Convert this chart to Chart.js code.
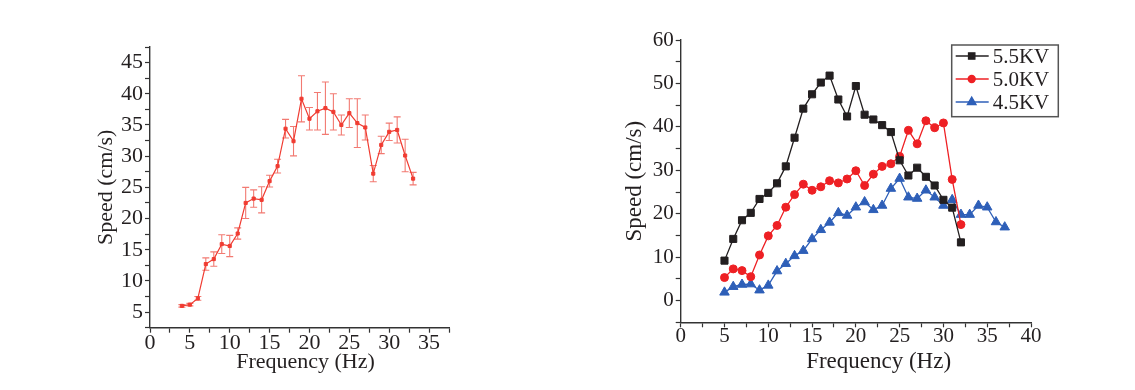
<!DOCTYPE html>
<html lang="en">
<head>
<meta charset="utf-8">
<title>Speed vs Frequency</title>
<script src="https://cdn.jsdelivr.net/npm/chart.js"></script>
<style>
    body { margin: 0; background: #fff; }
    .wrap { position: relative; width: 1135px; height: 390px; }
    #leftBox { position: absolute; left: 0; top: 0; width: 480px; height: 390px; }
    #rightBox { position: absolute; left: 567px; top: 0; width: 568px; height: 390px; }
</style>
</head>
<body>
<div class="wrap">
    <div id="leftBox"><canvas id="leftChart"></canvas></div>
    <div id="rightBox"><canvas id="rightChart"></canvas></div>
</div>
<script>
// ---- left plot (mean speed with error bars) ----
const leftFreq = [4, 5, 6, 7, 8, 9, 10, 11, 12, 13, 14, 15, 16, 17, 18, 19, 20, 21, 22, 23, 24, 25, 26, 27, 28, 29, 30, 31, 32, 33];
const leftSpeed = [6.0, 6.2, 7.2, 12.7, 13.5, 15.9, 15.6, 17.6, 22.5, 23.2, 23.0, 26.0, 28.4, 34.4, 32.4, 39.2, 36.0, 37.2, 37.7, 37.1, 35.0, 36.9, 35.3, 34.6, 27.2, 31.8, 33.9, 34.2, 30.1, 26.4];
const leftErr = [0.2, 0.2, 0.3, 1.0, 1.15, 1.5, 1.7, 0.9, 2.5, 1.4, 2.1, 0.95, 1.1, 1.5, 2.35, 3.7, 1.8, 3.0, 4.2, 2.9, 1.6, 2.3, 3.9, 2.0, 1.3, 1.4, 1.4, 2.1, 2.6, 1.0];
const leftXTicks = [0, 5, 10, 15, 20, 25, 30, 35];
const leftYTicks = [5, 10, 15, 20, 25, 30, 35, 40, 45];

// ---- right plot (three voltages) ----
const freq55 = [5, 6, 7, 8, 9, 10, 11, 12, 13, 14, 15, 16, 17, 18, 19, 20, 21, 22, 23, 24, 25, 26, 27, 28, 29, 30, 31, 32];
const speed55 = [9.2, 14.2, 18.5, 20.2, 23.4, 24.8, 27.0, 30.9, 37.5, 44.2, 47.5, 50.2, 51.8, 46.3, 42.4, 49.4, 42.8, 41.7, 40.4, 38.8, 32.3, 28.8, 30.6, 28.5, 26.5, 23.2, 21.4, 13.4];
const freq50 = [5, 6, 7, 8, 9, 10, 11, 12, 13, 14, 15, 16, 17, 18, 19, 20, 21, 22, 23, 24, 25, 26, 27, 28, 29, 30, 31, 32];
const speed50 = [5.3, 7.3, 6.9, 5.5, 10.5, 14.9, 17.3, 21.5, 24.4, 26.8, 25.4, 26.2, 27.6, 27.1, 28.0, 29.9, 26.5, 29.1, 30.9, 31.5, 33.2, 39.2, 36.1, 41.4, 39.8, 40.9, 27.9, 17.5];
const freq45 = [5, 6, 7, 8, 9, 10, 11, 12, 13, 14, 15, 16, 17, 18, 19, 20, 21, 22, 23, 24, 25, 26, 27, 28, 29, 30, 31, 32, 33, 34, 35, 36, 37];
const speed45 = [1.9, 3.2, 3.7, 3.8, 2.4, 3.5, 6.8, 8.5, 10.3, 11.5, 14.2, 16.3, 18.0, 20.2, 19.6, 21.5, 22.7, 20.9, 21.9, 25.8, 28.1, 23.8, 23.5, 25.4, 23.8, 21.9, 23.2, 19.8, 19.8, 21.9, 21.5, 18.1, 16.9];
const rightXTicks = [0, 5, 10, 15, 20, 25, 30, 35, 40];
const rightYTicks = [0, 10, 20, 30, 40, 50, 60];

const serif = "'Liberation Serif', 'Times New Roman', serif";
const ink = '#231f20';

const pairs = (xs, ys) => xs.map((x, i) => ({ x: x, y: ys[i] }));

// major ticks plus the unlabeled minor ones halfway between
function tickList(min, max, step) {
    const out = [];
    for (let v = min; v <= max + 1e-9; v += step) out.push({ value: Math.round(v * 100) / 100 });
    return out;
}

function axis(min, max, step, labels, size, pad, extra) {
    return Object.assign({
        type: 'linear',
        min: min,
        max: max,
        afterBuildTicks: s => { s.ticks = tickList(min, max, step); },
        ticks: {
            autoSkip: false,
            maxRotation: 0,
            padding: pad,
            color: ink,
            font: { family: serif, size: size },
            callback: v => labels.includes(v) ? String(v) : ''
        },
        grid: { drawOnChartArea: false, drawTicks: true, tickLength: 5, tickColor: '#333', tickWidth: 1.2 },
        border: { display: true, color: '#333', width: 1.4 }
    }, extra);
}

// error bars for the left plot, drawn under the line
const errorBars = {
    id: 'errorBars',
    beforeDatasetsDraw(chart, args, o) {
        const { ctx, scales: { x, y } } = chart;
        ctx.save();
        ctx.strokeStyle = o.color;
        ctx.lineWidth = 1.1;
        leftFreq.forEach((f, i) => {
            const px = x.getPixelForValue(f);
            const top = y.getPixelForValue(leftSpeed[i] + leftErr[i]);
            const bot = y.getPixelForValue(leftSpeed[i] - leftErr[i]);
            ctx.beginPath();
            ctx.moveTo(px, top); ctx.lineTo(px, bot);
            ctx.moveTo(px - 3.5, top); ctx.lineTo(px + 3.5, top);
            ctx.moveTo(px - 3.5, bot); ctx.lineTo(px + 3.5, bot);
            ctx.stroke();
        });
        ctx.restore();
    }
};

// x title placed at a given axis value (the originals are off-centre)
const xTitle = {
    id: 'xTitle',
    afterDraw(chart, args, o) {
        const { ctx, scales: { x } } = chart;
        ctx.save();
        ctx.font = o.size + 'px ' + serif;
        ctx.fillStyle = ink;
        ctx.textAlign = 'center';
        ctx.textBaseline = 'middle';
        ctx.fillText(o.text, x.getPixelForValue(o.at), o.y);
        ctx.restore();
    }
};

// boxed legend with line + marker samples
const boxLegend = {
    id: 'boxLegend',
    afterDraw(chart, args, o) {
        const { ctx, chartArea } = chart;
        const x0 = chartArea.right + o.dx, y0 = chartArea.top + o.dy;
        ctx.save();
        ctx.strokeStyle = '#555';
        ctx.lineWidth = 1.5;
        ctx.strokeRect(x0, y0, o.w, o.h);
        ctx.font = o.size + 'px ' + serif;
        ctx.textBaseline = 'middle';
        chart.data.datasets.forEach((ds, i) => {
            const cy = y0 + 11 + i * 23;
            ctx.strokeStyle = ds.borderColor;
            ctx.lineWidth = ds.borderWidth;
            ctx.beginPath();
            ctx.moveTo(x0 + 4, cy); ctx.lineTo(x0 + 37, cy);
            ctx.stroke();
            ctx.fillStyle = ds.backgroundColor;
            Chart.helpers.drawPoint(ctx, { pointStyle: ds.pointStyle, radius: ds.pointRadius - 0.5, rotation: 0, borderWidth: 1 }, x0 + 20, cy);
            ctx.fillStyle = ink;
            ctx.fillText(ds.label, x0 + 41, cy + 1);
        });
        ctx.restore();
    }
};

new Chart(document.getElementById('leftChart'), {
    type: 'line',
    data: {
        datasets: [{
            data: pairs(leftFreq, leftSpeed),
            borderColor: '#f03c32',
            backgroundColor: '#f03c32',
            borderWidth: 1.2,
            pointStyle: 'rect',
            pointRadius: 2.2,
            pointBorderWidth: 1
        }]
    },
    options: {
        responsive: true,
        maintainAspectRatio: false,
        animation: false,
        layout: { padding: { left: 80, top: 47, right: 31, bottom: 0 } },
        plugins: {
            legend: { display: false },
            tooltip: { enabled: false },
            errorBars: { color: '#f27a72' },
            xTitle: { text: 'Frequency (Hz)', at: 19.5, y: 362, size: 22 }
        },
        scales: {
            x: axis(0, 37.5, 2.5, leftXTicks, 22, -2.5, {
                afterFit: s => { s.height = 62.3; }
            }),
            y: axis(2.5, 47.5, 2.5, leftYTicks, 22, 2, {
                afterFit: s => { s.width = 70; },
                title: { display: true, text: 'Speed (cm/s)', color: ink, font: { family: serif, size: 22 }, padding: { top: 12.8, bottom: 0 } }
            })
        }
    },
    plugins: [errorBars, xTitle]
});

new Chart(document.getElementById('rightChart'), {
    type: 'line',
    data: {
        datasets: [
            { label: '5.5KV', data: pairs(freq55, speed55), borderColor: '#231f20', backgroundColor: '#231f20', borderWidth: 1.3, pointStyle: 'rect', pointRadius: 5, pointBorderWidth: 1 },
            { label: '5.0KV', data: pairs(freq50, speed50), borderColor: '#ee2024', backgroundColor: '#ee2024', borderWidth: 1.3, pointStyle: 'circle', pointRadius: 4, pointBorderWidth: 1 },
            { label: '4.5KV', data: pairs(freq45, speed45), borderColor: '#2e5fb8', backgroundColor: '#2e5fb8', borderWidth: 1.3, pointStyle: 'triangle', pointRadius: 5.5, pointBorderWidth: 1 }
        ]
    },
    options: {
        responsive: true,
        maintainAspectRatio: false,
        animation: false,
        layout: { padding: { left: 50, top: 40, right: 104, bottom: 0 } },
        plugins: {
            legend: { display: false },
            tooltip: { enabled: false },
            xTitle: { text: 'Frequency (Hz)', at: 22.6, y: 362, size: 23 },
            boxLegend: { dx: -79.3, dy: 5, w: 106.6, h: 71.7, size: 21 }
        },
        scales: {
            x: axis(0, 40, 2.5, rightXTicks, 21, -3, {
                afterFit: s => { s.height = 67.7; }
            }),
            y: axis(-5, 60, 5, rightYTicks, 21, 2, {
                afterFit: s => { s.width = 63.7; },
                title: { display: true, text: 'Speed (cm/s)', color: ink, font: { family: serif, size: 23 }, padding: { top: 3.7, bottom: 0 } }
            })
        }
    },
    plugins: [xTitle, boxLegend]
});
</script>
</body>
</html>
